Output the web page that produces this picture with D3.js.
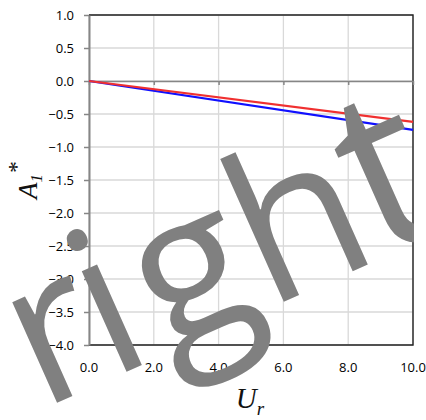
<!DOCTYPE html>
<html>
<head>
<meta charset="utf-8">
<script src="https://cdn.jsdelivr.net/npm/d3@7"></script>
<style>
  html, body { margin: 0; padding: 0; background: #fff; }
  svg { display: block; }
</style>
</head>
<body>
<svg id="chart" width="426" height="420"></svg>
<script>
// Reduced velocity along the x axis
const urValues = [0, 10];
// Two linear responses of A1*
const redSeries = [0, -0.62];
const blueSeries = [0, -0.74];
const xTickValues = [0, 2, 4, 6, 8, 10];
const yTickValues = [1.0, 0.5, 0.0, -0.5, -1.0, -1.5, -2.0, -2.5, -3.0, -3.5, -4.0];
const watermarkLetters = ["r", "i", "g", "h", "t"];

(function draw() {
  const svg = d3.select("#chart");
  const W = 426, H = 420;
  const plotLeft = 89, plotRight = 413, plotTop = 15, plotBottom = 345;

  const x = d3.scaleLinear().domain([0, 10]).range([plotLeft, plotRight]);
  const y = d3.scaleLinear().domain([-4, 1]).range([plotBottom, plotTop]);

  const fmt = d3.format(".1f");
  const tickFont = "'Open Sans', 'Noto Sans', sans-serif";

  // Gridlines
  const grid = svg.append("g");
  grid.selectAll("line.h").data(yTickValues).join("line")
    .attr("class", "h")
    .attr("x1", plotLeft).attr("x2", plotRight)
    .attr("y1", d => y(d)).attr("y2", d => y(d))
    .attr("stroke", "#d9d9d9").attr("stroke-width", 1.3);
  grid.selectAll("line.v").data(xTickValues).join("line")
    .attr("class", "v")
    .attr("x1", d => x(d)).attr("x2", d => x(d))
    .attr("y1", plotTop).attr("y2", plotBottom)
    .attr("stroke", "#d9d9d9").attr("stroke-width", 1.3);

  // Plot frame (top, right, bottom)
  svg.append("path")
    .attr("d", `M${plotLeft},${plotTop}H${plotRight}V${plotBottom}H${plotLeft}`)
    .attr("fill", "none").attr("stroke", "#222").attr("stroke-width", 1.4);

  // Horizontal axis crossing at zero with downward ticks
  const xAxis = d3.axisBottom(x).tickValues(xTickValues).tickSize(4).tickSizeOuter(0).tickFormat("");
  const xAxisG = svg.append("g").attr("transform", `translate(0,${y(0)})`).call(xAxis);
  xAxisG.select(".domain").attr("stroke", "#868686").attr("stroke-width", 1.5);
  xAxisG.selectAll(".tick line").attr("stroke", "#868686").attr("stroke-width", 1.5);

  // Vertical axis
  const yAxis = d3.axisLeft(y).tickValues(yTickValues).tickSize(5).tickSizeOuter(0).tickFormat(fmt);
  const yAxisG = svg.append("g").attr("transform", `translate(${plotLeft},0)`).call(yAxis);
  yAxisG.select(".domain").attr("stroke", "#868686").attr("stroke-width", 2);
  yAxisG.selectAll(".tick line").attr("stroke", "#868686").attr("stroke-width", 1.5);
  yAxisG.selectAll(".tick text")
    .attr("x", -15)
    .attr("font-family", tickFont).attr("font-size", 13).attr("font-weight", 500).attr("fill", "#000");

  // Bottom tick labels
  svg.append("g").selectAll("text").data(xTickValues).join("text")
    .attr("x", d => x(d)).attr("y", 372)
    .attr("text-anchor", "middle")
    .attr("font-family", tickFont).attr("font-size", 13).attr("font-weight", 500).attr("fill", "#000")
    .text(d => fmt(d));

  // Series lines
  const line = d3.line().x((d, i) => x(urValues[i])).y(d => y(d));
  svg.append("path").datum(blueSeries).attr("d", line)
    .attr("fill", "none").attr("stroke", "#1010ff").attr("stroke-width", 2.2);
  svg.append("path").datum(redSeries).attr("d", line)
    .attr("fill", "none").attr("stroke", "#f03030").attr("stroke-width", 2.2);

  // Axis titles
  const serif = "'Liberation Serif', 'DejaVu Serif', serif";
  const yTitle = svg.append("text")
    .attr("transform", "translate(37,180) rotate(-90)")
    .attr("text-anchor", "middle")
    .attr("font-family", serif).attr("font-style", "italic").attr("font-size", 27).attr("fill", "#111");
  yTitle.append("tspan").text("A");
  yTitle.append("tspan").attr("font-size", 17).attr("dy", 5).text("1");
  yTitle.append("tspan").attr("font-size", 24).attr("dx", 1).attr("dy", -18).attr("font-style", "normal").text("*");

  const xTitle = svg.append("text")
    .attr("x", 250).attr("y", 408)
    .attr("text-anchor", "middle")
    .attr("font-family", serif).attr("font-style", "italic").attr("font-size", 29).attr("fill", "#111");
  xTitle.append("tspan").text("U");
  xTitle.append("tspan").attr("font-size", 19).attr("dy", 7).text("r");

  // Overlay lettering, clipped at the right edge of the plot
  const letterDx = { r: 0, i: -8, g: 8, h: 0, t: -4 };
  const letterSize = { r: 206, i: 206, g: 206, h: 206, t: 232 };
  svg.append("clipPath").attr("id", "wmclip")
    .append("rect").attr("x", 0).attr("y", 0).attr("width", 414).attr("height", H);
  svg.append("g")
    .attr("clip-path", "url(#wmclip)")
    .append("text")
    .attr("transform", "translate(41,410) rotate(-24)")
    .attr("font-family", "'Open Sans', sans-serif")
    .attr("fill", "#808080")
    .selectAll("tspan").data(watermarkLetters).join("tspan")
    .attr("dx", d => letterDx[d])
    .attr("font-size", d => letterSize[d])
    .text(d => d);
})();
</script>
</body>
</html>
